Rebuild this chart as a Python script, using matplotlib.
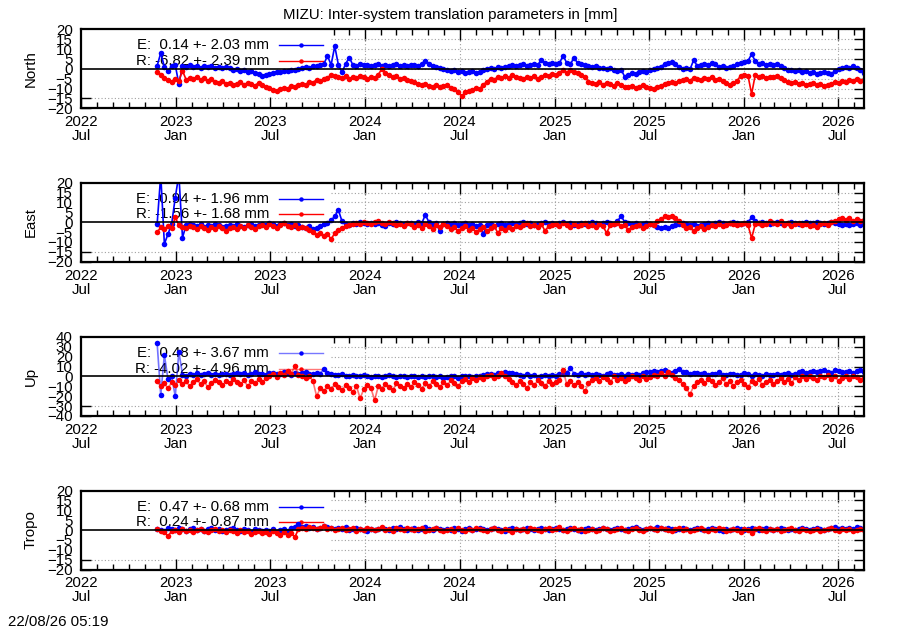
import numpy as np
import pandas as pd
import matplotlib
matplotlib.use("Agg")
import matplotlib.pyplot as plt
import matplotlib.dates as mdates
from matplotlib.patches import Rectangle
from matplotlib.lines import Line2D

plt.rcParams["font.family"] = ["Liberation Sans", "DejaVu Sans"]
plt.rcParams["font.size"] = 10.8

# weekly estimates, first epoch 2022-11-25
start = "2022-11-25"

north_e = [1.5, 8.0, 1.0, -1.3, 1.5, 2.0, -7.8, 1.5, 1.0, 2.0,
           1.0, 1.5, 0.5, 1.2, 0.8, 1.5, 0.5, 1.0, 0.2, 0.8,
           0.3, -0.5, 0.0, -1.0, -0.5, -1.5, -1.0, -2.0, -2.5, -3.5,
           -3.0, -2.5, -2.0, -1.5, -1.8, -1.0, -1.2, -0.5, -0.8, 0.0,
           0.3, 0.8, 0.5, 1.2, 1.5, 2.0, 2.5, 6.5, 2.0, 11.5,
           2.0, -1.8, 2.5, 5.7, 2.0, 1.5, 2.5, 1.8, 2.0, 1.5,
           1.8, 2.2, 1.5, 2.0, 1.2, 1.8, 2.5, 1.5, 2.0, 1.5,
           1.8, 2.0, 1.5, 2.5, 4.0, 2.5, 1.5, 1.0, 0.5, 0.0,
           -0.5, -1.0, -0.5, -1.5, -1.0, -2.0, -1.5, -1.0, -2.0, -1.5,
           -0.5, 0.0, 0.5, 0.0, 1.0, 0.5, 1.0, 1.5, 2.0, 1.5,
           2.0, 2.5, 1.5, 2.0, 2.5, 2.0, 4.5, 3.0, 2.5, 3.0,
           2.5, 3.0, 6.6, 3.0, 2.5, 5.4, 3.0, 2.5, 2.0, 1.5,
           1.0, 1.5, 0.5, 0.5, 0.0, 0.5, -0.5, -1.0, -0.5, -4.0,
           -3.0, -2.0, -2.5, -1.5, -1.0, -1.5, -0.5, 0.0, 0.5, 1.0,
           2.5, 3.0, 3.5, 2.5, 1.0, 0.0, 0.5, -0.3, 4.4, 1.5,
           2.0, 2.5, 2.0, 3.0, 2.5, 1.0, 1.5, 0.5, 1.0, 1.5,
           2.5, 3.0, 3.5, 4.0, 7.4, 4.0, 2.5, 3.0, 2.0, 2.5,
           2.0, 2.5, 1.5, 0.5, -0.5, -0.7, -1.0, -0.5, -1.5, -1.0,
           -2.0, -1.5, -2.5, -2.0, -1.5, -2.0, -2.5, -1.0, 0.0, 0.5,
           1.0, 0.5, 1.5, 0.5, -0.5, -2.0]
north_r = [-1.5, -3.0, -4.5, -5.5, -6.5, -5.0, -6.0, -1.0, -5.5, -4.5,
           -5.0, -4.0, -5.5, -4.5, -6.0, -5.0, -6.5, -7.0, -6.0, -7.5,
           -7.0, -8.0, -7.5, -6.5, -8.0, -7.0, -7.5, -8.5, -7.0, -8.0,
           -9.0, -9.5, -10.5, -11.0, -10.0, -9.5, -10.0, -8.5, -9.0, -8.0,
           -7.5, -8.0, -6.5, -7.0, -5.5, -6.0, -5.0, -4.5, -3.0, -3.5,
           -4.0, -4.5, -3.5, -5.0, -4.0, -4.5, -3.5, -4.0, -5.0, -4.0,
           -4.5, -3.0, 0.0, -2.0, -3.0, -4.0, -3.5, -5.0, -4.5, -5.5,
           -6.0, -6.5, -7.5, -8.0, -7.5, -8.5, -9.0, -8.0, -9.0, -8.5,
           -8.0, -9.5, -10.0, -11.5, -14.0, -12.0, -11.0, -10.5, -9.5, -10.0,
           -8.0, -6.5, -5.0, -5.5, -4.0, -4.5, -3.5, -4.5, -3.0, -4.0,
           -4.5, -5.0, -4.0, -4.5, -3.5, -5.0, -4.0, -3.0, -3.5, -2.5,
           -3.0, -2.0, -0.5, -2.0, -0.5, -1.5, -2.0, -3.0, -4.0, -6.5,
           -7.0, -7.5, -6.5, -8.0, -7.0, -7.5, -8.5, -7.0, -8.0, -9.0,
           -9.0, -8.5, -9.5, -9.0, -8.0, -9.0, -9.5, -10.0, -9.0, -8.5,
           -7.5, -7.0, -6.5, -7.0, -6.0, -5.5, -5.0, -6.0, -4.5, -5.0,
           -5.5, -4.5, -5.0, -4.0, -5.5, -5.0, -6.0, -7.0, -8.0, -7.0,
           -6.0, -3.5, -3.0, -3.5, -12.8, -3.0, -4.0, -3.5, -4.5, -4.0,
           -4.0, -3.5, -4.5, -5.5, -6.5, -7.0, -6.5, -7.5, -7.0, -8.0,
           -7.5, -7.0, -8.0, -7.5, -8.5, -8.0, -7.5, -6.5, -7.0, -6.0,
           -6.5, -5.5, -6.0, -5.0, -6.0, -5.5]

east_e = [-1.0, 24.0, -11.0, -6.0, -1.0, 12.5, 24.0, -7.8, -1.5, -1.0,
          -1.5, -2.0, -1.0, -2.5, -1.5, -2.0, -1.0, -1.5, -2.5, -1.8,
          -1.5, -2.0, -1.0, -1.8, -2.5, -1.5, -1.0, -2.0, -1.5, -1.0,
          -1.5, -0.5, -1.0, -2.0, -1.0, -0.5, -1.5, -1.0, -2.0, -1.5,
          -2.5, -3.0, -2.0, -3.5, -3.0, -2.0, -1.0, -0.5, 1.0, 3.0,
          6.2, 0.5, -1.0, -1.5, -0.5, -1.0, 0.0, -0.5, -1.0, -0.5,
          -1.0, -0.5, -1.5, -2.0, -0.5, -1.0, 0.0, -0.5, -1.0, -0.5,
          -0.5, -1.0, 0.0, -0.5, 3.7, 0.0, -1.0, -0.5, -4.7, -1.0,
          -0.5, -1.0, -0.5, -1.5, -1.0, -0.5, -1.5, -1.0, -2.0, -1.5,
          -6.0, -1.5, -1.0, -2.0, -1.0, -0.5, -1.5, -1.0, -0.5, -1.0,
          -0.5, 0.0, -1.0, -0.5, -1.5, -1.0, -0.5, 0.0, -1.0, -0.5,
          -1.0, -0.5, 0.0, -1.0, -0.5, -1.5, -1.0, -0.5, -1.0, -0.5,
          0.0, -0.5, -1.0, -0.5, 0.0, -0.5, -1.0, 0.5, 3.2, 0.0,
          -0.5, -1.0, -0.5, -1.5, -1.0, -0.5, -1.0, -1.5, -2.5, -3.0,
          -2.5, -3.0, -2.0, -1.5, -1.0, -0.5, -1.0, -1.5, -1.0, -2.0,
          -1.5, -1.0, -0.5, -1.0, -0.5, 0.0, -0.5, -1.0, -0.5, 0.0,
          -0.5, -1.0, -0.5, 0.0, 2.4, 0.5, -0.5, 0.0, -0.5, -1.0,
          -0.5, 0.0, -0.5, -1.0, -0.5, 0.0, -0.5, -1.0, -0.5, 0.0,
          -0.5, -0.2, 0.0, -0.5, -1.0, -0.5, 0.0, -0.5, -1.0, -1.5,
          -1.0, -1.5, -1.0, -0.5, -1.3, -1.0]
east_r = [-5.2, -2.5, -3.5, -2.0, -3.0, 2.4, -1.5, -2.5, -3.0, -2.0,
          -2.5, -3.5, -2.0, -3.0, -4.0, -2.5, -3.5, -2.0, -3.0, -4.4,
          -3.0, -2.5, -3.5, -2.0, -3.0, -1.5, -2.5, -3.5, -2.0, -1.5,
          -2.5, -1.0, -2.0, -3.0, -1.5, -0.5, -2.0, -2.5, -1.5, -3.0,
          -2.5, -3.0, -4.0, -5.0, -6.5, -5.5, -7.0, -6.0, -8.6, -5.5,
          -4.0, -3.0, -2.0, -1.5, -1.0, -0.5, -1.0, 0.0, -0.5, -1.0,
          0.0, 0.5, -0.5, -1.0, 0.0, -0.5, -1.5, -1.0, -2.0, -0.5,
          -1.0, -2.5, -1.5, -3.0, -1.0, -2.0, -3.5, -1.5, -2.5, -1.0,
          -2.0, -3.5, -2.5, -4.5, -3.0, -2.0, -4.0, -3.0, -5.0, -3.5,
          -2.5, -4.5, -3.0, -2.0, -5.5, -3.0, -4.0, -2.5, -3.5, -2.0,
          -2.5, -1.5, -0.5, -2.0, -1.5, -2.5, -1.0, -4.4, -2.0, -1.5,
          -1.0, -2.0, -0.5, -1.5, -2.5, -1.0, -2.0, -1.5, -0.5, -2.0,
          -1.5, -2.5, -1.0, -2.0, -5.5, -1.5, -1.0, -0.5, -2.0, -1.5,
          -4.0, -2.5, -2.0, -1.5, -3.0, -2.0, -1.0, -1.5, 0.5, 1.5,
          3.0, 2.5, 3.0, 2.0, 0.5, -1.5, -3.0, -2.5, -4.7, -3.0,
          -2.0, -3.5, -2.5, -1.5, -2.0, -1.0, -2.0, -1.5, -0.5, -1.0,
          -1.5, -1.0, -0.5, -1.5, -8.1, -1.0, -0.5, -1.5, -1.0, 0.5,
          -0.5, -1.0, 0.5, -1.5, -0.5, -2.0, -1.0, -0.5, -1.5, -1.0,
          -2.0, -1.5, -2.5, -1.0, -0.5, -1.5, 0.0, 0.5, 1.5, 2.0,
          1.0, 2.0, 0.5, 1.5, 0.5, 1.0]

up_e = [34.0, -19.0, 22.0, -3.0, 0.0, -20.0, 25.0, 2.0, 1.0, 3.0,
        2.0, 3.5, 1.5, 2.5, 4.0, 2.0, 3.0, 1.5, 2.5, 3.0,
        2.0, 3.0, 4.0, 2.5, 3.5, 2.0, 3.0, 4.5, 2.5, 3.0,
        2.0, 3.5, 4.0, 2.5, 3.0, 5.0, 3.5, 2.0, 4.0, 3.0,
        3.5, 4.5, 3.0, 2.5, 4.0, 3.0, 8.0, 4.0, 3.0, 2.0,
        1.5, 2.5, 1.0, 0.5, 2.0, 1.0, 0.0, 1.5, 0.5, -1.0,
        0.0, 1.0, -0.5, 0.5, 1.5, 0.0, -1.0, 0.5, 1.0, -0.5,
        0.0, 1.0, -0.5, 0.5, -1.0, 0.0, 1.0, -0.5, 0.5, -2.0,
        -1.0, 0.0, 0.5, -1.5, 0.0, 1.0, 0.5, -0.5, 1.0, 0.0,
        1.5, 2.5, 3.0, 2.0, 4.0, 3.0, 4.5, 3.5, 4.0, 3.0,
        2.0, 1.0, 2.5, 0.5, 1.5, -1.0, 0.0, 1.5, 0.5, 2.0,
        1.0, 2.5, 3.0, 4.0, 9.0, 3.0, 2.0, 3.5, 1.5, 2.5,
        1.5, 3.0, 2.0, 1.0, 2.5, 3.5, 1.5, 2.0, 3.0, 1.0,
        2.5, 1.5, 3.0, 2.0, 3.5, 4.5, 5.0, 6.0, 4.5, 5.5,
        6.5, 5.0, 4.0, 6.0, 7.5, 5.0, 4.5, 3.0, 4.0, 3.5,
        2.5, 3.5, 1.5, 2.5, 3.0, 4.5, 2.0, 1.5, 3.0, 2.5,
        1.5, 2.0, 3.5, 2.5, 1.0, 3.0, 2.0, 1.0, 2.5, 1.5,
        2.0, 3.0, 1.5, 2.5, 3.5, 2.0, 3.0, 4.5, 5.5, 4.0,
        5.0, 6.0, 4.5, 5.5, 7.0, 5.0, 4.0, 6.5, 5.5, 4.5,
        5.0, 6.0, 4.0, 5.5, 7.0, 5.0]
up_r = [-5.0, -10.0, -7.0, -12.0, -6.0, -9.0, -4.0, -8.0, -5.0, -10.0,
        -6.0, -3.0, -8.0, -5.0, -11.0, -7.0, -4.0, -6.0, -9.0, -5.0,
        -7.0, -3.0, -6.0, -8.0, -4.0, -10.0, -5.0, -7.0, -3.0, -6.0,
        -2.0, 1.0, 3.0, -1.0, 4.0, 2.0, 6.0, 3.0, 10.8, 2.0,
        0.0, -2.0, 1.0, -5.0, -20.0, -12.0, -15.0, -10.0, -13.0, -8.0,
        -11.0, -14.0, -9.0, -12.0, -16.0, -10.0, -22.0, -13.0, -9.0, -12.0,
        -24.0, -10.0, -13.0, -8.0, -11.0, -14.0, -7.0, -10.0, -12.0, -8.0,
        -11.0, -6.0, -9.0, -13.0, -7.0, -10.0, -5.0, -8.0, -11.0, -6.0,
        -9.0, -4.0, -7.0, -10.0, -5.0, -3.0, -6.0, -2.0, -4.0, -1.0,
        -3.0, 0.0, 2.0, -2.0, 1.0, 4.0, 0.0, -3.0, -6.0, -9.0,
        -5.0, -8.0, -12.0, -6.0, -9.0, -4.0, -7.0, -10.0, -5.0, -8.0,
        -6.0, -4.0, 6.5, -8.0, -5.0, -9.0, -6.0, -10.0, -15.0, -7.0,
        -4.0, -2.0, -5.0, -1.0, -3.0, -6.0, 0.0, -4.0, -2.0, -5.0,
        -3.0, 1.0, -2.0, -4.0, 0.0, -3.0, -1.0, 2.0, 0.0, 4.0,
        1.0, 5.0, 2.0, -2.0, -4.0, -8.0, -12.0, -18.0, -10.0, -6.0,
        -4.0, -7.0, -3.0, -5.0, -9.0, -6.0, -2.0, -8.0, -5.0, -10.0,
        -6.0, -4.0, -8.0, -11.0, -5.0, -7.0, -3.0, -9.0, -6.0, -4.0,
        -8.0, -5.0, -2.0, -6.0, -3.0, -7.0, -1.0, -4.0, 0.0, -3.0,
        1.0, -2.0, -4.0, 0.0, -1.0, 2.0, -3.0, 0.0, -5.0, -2.0,
        0.0, -3.0, 1.0, -1.0, -4.0, -2.0]

tropo_e = [0.5, 0.0, -0.5, 1.0, 0.5, 0.0, 1.0, 0.5, -0.5, 0.5,
           1.0, 0.0, 0.5, -0.5, 0.5, 1.0, 0.0, 0.5, -0.5, 0.0,
           0.5, 1.0, 0.0, -0.5, 0.5, 0.0, -1.0, 0.5, 0.0, -0.5,
           0.0, -0.5, 0.5, -1.0, 0.0, 0.5, -0.5, 1.0, 1.5, 3.0,
           1.5, 2.0, 1.0, 1.5, 0.5, 1.0, 2.0, 1.5, 1.0, 0.5,
           1.0, 0.5, 1.5, 0.0, 0.5, 1.0, 0.5, 0.0, -0.5, 0.5,
           0.0, 0.5, 1.0, 0.5, 0.0, 1.0, 0.5, 1.5, 0.5, 0.0,
           0.5, 1.0, 0.0, 0.5, 1.5, 0.5, 0.0, 1.0, 0.5, 0.0,
           0.5, 0.0, 1.0, 0.5, -0.5, 0.5, 1.0, 0.0, 0.5, 1.0,
           0.5, 0.0, 0.5, 1.0, 0.5, 0.0, -0.5, 0.5, 1.0, 0.5,
           0.0, 0.5, 1.0, 0.5, 0.0, 0.5, 1.0, 0.5, 0.0, 0.5,
           1.0, 0.5, 0.0, 0.5, 1.0, 0.5, 0.0, -0.5, 0.5, 1.0,
           0.5, 0.0, 0.5, 1.0, 0.5, 0.0, 0.5, 1.0, 0.5, 0.0,
           0.5, 1.0, 1.5, 0.5, 0.0, 0.5, 1.0, 0.5, 1.5, 1.0,
           0.5, 1.0, 0.5, 0.0, 0.5, 1.0, 0.5, 0.0, 0.5, 1.0,
           0.5, 0.0, 0.5, 1.0, 0.5, 0.0, -0.5, 0.5, 0.0, 0.5,
           1.0, 0.5, 0.0, 0.5, 1.0, 0.5, 0.0, 0.5, 1.0, 0.5,
           0.0, 0.5, 1.0, 0.5, 0.0, 0.5, 0.0, 0.5, 1.0, 0.5,
           0.0, 0.5, 1.0, 0.5, 0.0, 0.5, 1.0, 1.5, 0.5, 1.0,
           0.5, 1.0, 0.5, 1.5, 1.0, 0.5]
tropo_r = [0.5, -0.5, -1.0, -3.2, -0.5, 0.0, -1.0, 0.5, -0.5, 0.0,
           -1.0, 0.0, 0.5, -0.5, -1.0, 0.0, 0.5, -0.5, 0.0, -1.0,
           0.0, -0.5, -1.5, 0.0, -1.0, -0.5, -2.0, -1.0, -0.5, -1.5,
           -1.0, -2.0, -0.5, -1.5, -2.5, -1.0, -2.4, -1.5, -3.6, 0.5,
           1.0, 0.5, 1.5, 1.0, 0.5, 1.0, 2.0, 0.5, 1.0, 0.0,
           0.5, 1.0, 0.0, 0.5, 1.0, -0.5, 0.5, 0.0, 1.0, 0.5,
           0.0, 0.5, 1.5, 0.0, 0.5, -0.5, 1.0, 0.5, 0.0, 1.0,
           0.5, 0.0, 0.5, 1.0, -0.5, 0.0, 0.5, 1.0, 0.0, -0.5,
           0.0, 0.5, -0.5, 1.0, 0.0, -0.5, 0.5, 0.0, 1.0, 0.5,
           0.0, -0.5, 0.5, 1.0, 0.0, -0.5, 0.5, 0.0, -1.0, 0.5,
           0.0, 0.5, -0.5, 1.0, 0.5, 0.0, -0.5, 0.5, 1.0, 0.0,
           0.5, 1.5, 0.0, -0.5, 0.5, 1.0, 0.0, 0.5, -0.5, 0.0,
           0.5, -0.5, 0.0, 1.0, 0.5, -0.5, 0.0, 0.5, 1.0, 0.0,
           -0.5, 0.5, 1.0, 0.0, -0.5, 0.5, 1.0, 0.5, 0.0, 1.0,
           0.5, 0.0, -0.5, 0.5, 1.0, 0.0, 0.5, -0.5, 0.0, 0.5,
           1.0, 0.0, -0.5, 0.5, 0.0, 1.0, 0.5, -0.5, 0.0, 0.5,
           0.0, -1.0, 0.5, 0.0, -1.5, 0.5, 1.0, 0.0, -0.5, 0.5,
           0.0, 0.5, -0.5, 0.0, 0.5, 1.0, 0.0, -0.5, 0.5, 0.0,
           -0.5, 0.0, 0.5, -0.5, 0.0, 0.5, 1.0, 0.0, -0.5, 0.5,
           0.0, 0.5, -0.5, 0.0, 0.5, 0.0]

panels = ["North", "East", "Up", "Tropo"]
series = {"North": (north_e, north_r), "East": (east_e, east_r),
          "Up": (up_e, up_r), "Tropo": (tropo_e, tropo_r)}
labels = {"North": ("E:  0.14 +- 2.03 mm", "R: -6.82 +- 2.39 mm"),
          "East": ("E: -0.94 +- 1.96 mm", "R: -1.56 +- 1.68 mm"),
          "Up": ("E:  0.48 +- 3.67 mm", "R: -4.02 +- 4.96 mm"),
          "Tropo": ("E:  0.47 +- 0.68 mm", "R:  0.24 +- 0.87 mm")}
ylims = {"North": 20, "East": 20, "Up": 40, "Tropo": 20}
ysteps = {"North": 5, "East": 5, "Up": 10, "Tropo": 5}

x0 = pd.Timestamp("2022-07-01")
x1 = pd.Timestamp("2026-08-21")
box_end = pd.Timestamp("2023-10-28")
major = pd.date_range(x0, "2026-07-01", freq="6MS")

fig = plt.figure(figsize=(9, 6.3), dpi=100)
bottoms = [0.8281, 0.5846, 0.3397, 0.0960]
grid_kw = dict(color="#a0a0a0", lw=0.8, ls=(0, (1, 2)))
ms = 4.0

for name, bot in zip(panels, bottoms):
    ax = fig.add_axes([0.09, bot, 0.87, 0.1254])
    e_vals, r_vals = series[name]
    d_e = pd.date_range(start, periods=len(e_vals), freq="7D")
    d_r = pd.date_range(start, periods=len(r_vals), freq="7D")
    lim = ylims[name]

    ax.set_xlim(x0, x1)
    ax.set_ylim(-lim, lim)
    ax.set_yticks(np.arange(-lim, lim + 1, ysteps[name]))
    ax.set_xticks(major)
    ax.set_xticklabels([d.strftime("%Y\n%b") for d in major])
    for lab in ax.get_xticklabels():
        lab.set_linespacing(1.0)
    ax.xaxis.set_minor_locator(mdates.MonthLocator())

    ax.set_axisbelow(True)
    ax.grid(True, axis="y", **grid_kw)
    for d in major:
        if d > box_end:
            ax.axvline(d, zorder=0.5, **grid_kw)

    # opaque key area like gnuplot
    ax.add_patch(Rectangle((0, 0.19), 0.319, 0.81, transform=ax.transAxes,
                           facecolor="white", edgecolor="none", zorder=1))

    if name == "Up":
        ax.plot(d_e, e_vals, color="blue", lw=1.2, alpha=0.55, zorder=2)
        ax.plot(d_e, e_vals, "o", color="blue", ms=ms, mew=0, zorder=2.1)
        ax.plot(d_r, r_vals, color="red", lw=1.2, alpha=0.55, zorder=2.2)
        ax.plot(d_r, r_vals, "o", color="red", ms=ms, mew=0, zorder=2.3)
        c_e, c_r = "#7777ff", "#ff7777"
    else:
        ax.plot(d_e, e_vals, "-o", color="blue", lw=1.2, ms=ms, mew=0, zorder=2)
        ax.plot(d_r, r_vals, "-o", color="red", lw=1.2, ms=ms, mew=0, zorder=2.2)
        c_e, c_r = "blue", "red"
    ax.axhline(0, color="black", lw=1.2, zorder=3)

    # key
    le, lr = labels[name]
    for ty, txt, col, mc in [(0.797, le, c_e, "blue"), (0.601, lr, c_r, "red")]:
        ax.text(0.240, ty, txt, transform=ax.transAxes, ha="right", va="center",
                zorder=1.5)
        ax.add_line(Line2D([0.2525, 0.3087], [ty, ty], transform=ax.transAxes,
                           color=col, lw=1, zorder=1.6))
        ax.add_line(Line2D([0.281], [ty], transform=ax.transAxes, marker="o",
                           color=mc, ms=3.2, mew=0, zorder=1.6))

    ax.text(-0.064, 0.5, name, transform=ax.transAxes, rotation=90,
            ha="center", va="center")

    ax.tick_params(axis="x", which="major", direction="in", length=8, width=1,
                   top=True, pad=5)
    ax.tick_params(axis="x", which="minor", direction="in", length=4, width=1,
                   top=True)
    ax.tick_params(axis="y", which="major", direction="in", length=7, width=1,
                   right=True, pad=6)
    for s in ax.spines.values():
        s.set_linewidth(1.6)

fig.text(0.5, 1 - 15 / 630, "MIZU: Inter-system translation parameters in [mm]",
         ha="center", va="center")
fig.text(8 / 900, 1 - 622 / 630, "22/08/26 05:19", ha="left", va="center")

fig.savefig("out.png", dpi=100)
